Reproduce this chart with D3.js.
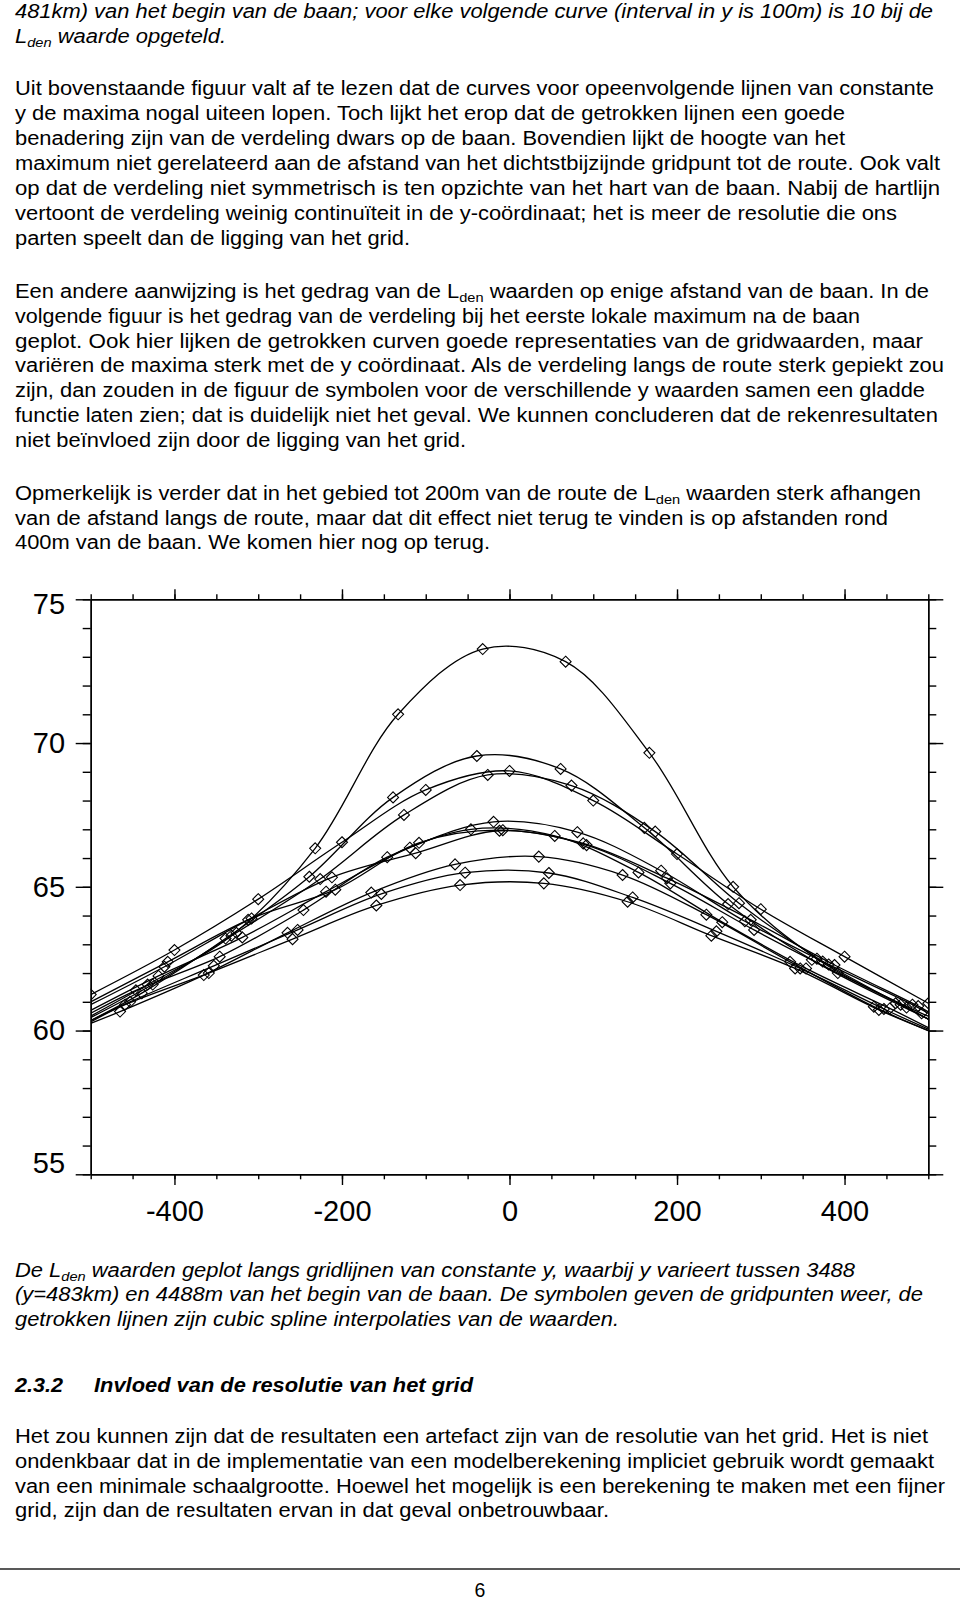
<!DOCTYPE html>
<html><head><meta charset="utf-8">
<script src="https://cdn.jsdelivr.net/npm/d3@7"></script>
<style>body{margin:0;background:#fff}svg{display:block}</style>
</head><body>
<script>
// ---------------- DATA ----------------
// x positions (m, distance across the route) of the grid points on each line of constant y
const gridX = [
  [-432,-332,-232,-133,-32,67,167,267,367,467],
  [-439,-339,-239,-139,-39,61,161,261,361,461],
  [-500,-400,-300,-200,-100,0,100,200,300,400,500],
  [-426,-326,-226,-126,-26,74,174,274,374,474],
  [-419,-319,-219,-119,-19,81,181,281,381,481],
  [-446,-346,-246,-146,-46,54,154,254,354,454],
  [-412,-312,-212,-112,-12,88,188,288,388,488],
  [-408,-308,-208,-108,-8,92,192,292,392,492],
  [-465,-365,-265,-165,-65,35,135,235,335,435],
  [-453,-353,-253,-153,-53,47,147,247,347,447],
  [-459,-359,-259,-159,-59,41,141,241,341,441]
];
// Lden values at those grid points
const ldenAtGrid = [
  [61.6,63.3,66.34,71.0,73.27,72.83,69.66,65.0,62.5,60.9],
  [61.3,63.2,65.35,68.11,69.55,69.1,67.05,64.4,62.46,60.95],
  [61.25,62.8,64.57,66.55,68.37,69.03,68.0,66.14,64.22,62.57,60.95],
  [61.6,63.4,65.27,67.5,68.89,68.52,66.92,64.43,62.4,60.8],
  [61.9,63.24,64.83,66.36,67.26,66.9,65.56,63.8,62.3,60.9],
  [61.4,62.57,64.19,66.03,67.0,66.77,65.5,63.77,62.16,60.77],
  [62.22,63.85,65.33,66.17,66.95,66.51,65.3,63.85,62.28,60.85],
  [62.39,63.9,64.9,66.53,66.97,66.45,65.12,63.5,62.0,60.6],
  [60.66,61.93,63.4,64.8,65.78,66.05,65.41,64.03,62.39,60.83],
  [61.0,62.25,63.5,64.75,65.49,65.48,64.63,63.45,62.16,60.75],
  [60.9,62.0,63.18,64.35,65.06,65.12,64.48,63.3,62.16,60.72]
];
// where each spline meets the frame (x = -500 / x = 500); null = grid point lies on the frame
const ldenAtLeftEdge  = [60.5,60.35,null,60.45,60.7,60.6,60.9,61.0,60.25,60.35,60.3];
const ldenAtRightEdge = [60.4,60.4,null,60.4,60.6,60.1,60.65,60.5,60.0,60.05,60.0];

const xDomain = [-500,500];
const yDomain = [55,75];
const xTickValues = [-400,-200,0,200,400];
const xTickLabels = ["-400","-200","0","200","400"];
const yTickValues = [55,60,65,70,75];
const yTickLabels = ["55","60","65","70","75"];

// ---------------- TEXT ----------------
const para1 = [
  "481km) van het begin van de baan; voor elke volgende curve (interval in y is 100m) is 10 bij de",
  "L{den} waarde opgeteld."
];
const para2 = [
  "Uit bovenstaande figuur valt af te lezen dat de curves voor opeenvolgende lijnen van constante",
  "y de maxima nogal uiteen lopen. Toch lijkt het erop dat de getrokken lijnen een goede",
  "benadering zijn van de verdeling dwars op de baan. Bovendien lijkt de hoogte van het",
  "maximum niet gerelateerd aan de afstand van het dichtstbijzijnde gridpunt tot de route. Ook valt",
  "op dat de verdeling niet symmetrisch is ten opzichte van het hart van de baan. Nabij de hartlijn",
  "vertoont de verdeling weinig continuïteit in de y-coördinaat; het is meer de resolutie die ons",
  "parten speelt dan de ligging van het grid."
];
const para3 = [
  "Een andere aanwijzing is het gedrag van de L{den} waarden op enige afstand van de baan. In de",
  "volgende figuur is het gedrag van de verdeling bij het eerste lokale maximum na de baan",
  "geplot. Ook hier lijken de getrokken curven goede representaties van de gridwaarden, maar",
  "variëren de maxima sterk met de y coördinaat. Als de verdeling langs de route sterk gepiekt zou",
  "zijn, dan zouden in de figuur de symbolen voor de verschillende y waarden samen een gladde",
  "functie laten zien; dat is duidelijk niet het geval. We kunnen concluderen dat de rekenresultaten",
  "niet beïnvloed zijn door de ligging van het grid."
];
const para4 = [
  "Opmerkelijk is verder dat in het gebied tot 200m van de route de L{den} waarden sterk afhangen",
  "van de afstand langs de route, maar dat dit effect niet terug te vinden is op afstanden rond",
  "400m van de baan. We komen hier nog op terug."
];
const caption = [
  "De L{den} waarden geplot langs gridlijnen van constante y, waarbij y varieert tussen 3488",
  "(y=483km) en 4488m van het begin van de baan. De symbolen geven de gridpunten weer, de",
  "getrokken lijnen zijn cubic spline interpolaties van de waarden."
];
const headingNumber = "2.3.2";
const headingTitle = "Invloed van de resolutie van het grid";
const para5 = [
  "Het zou kunnen zijn dat de resultaten een artefact zijn van de resolutie van het grid. Het is niet",
  "ondenkbaar dat in de implementatie van een modelberekening impliciet gebruik wordt gemaakt",
  "van een minimale schaalgrootte. Hoewel het mogelijk is een berekening te maken met een fijner",
  "grid, zijn dan de resultaten ervan in dat geval onbetrouwbaar."
];
const pageNumber = "6";

// ---------------- LAYOUT ----------------
const W = 960, H = 1600;
const FONT = "'Liberation Sans', Arial, Helvetica, sans-serif";
const svg = d3.select("body").append("svg").attr("width", W).attr("height", H)
  .style("font-family", FONT);
svg.append("rect").attr("width", W).attr("height", H).attr("fill", "#fff");

const TX = 15, FS = 19.5;
function addLine(str, x0, yb, x1, opts = {}) {
  const t = svg.append("text").attr("x", x0).attr("y", yb)
    .attr("font-size", FS).attr("fill", "#000")
    .attr("font-style", opts.italic ? "italic" : null)
    .attr("font-weight", opts.bold ? "bold" : null);
  const parts = str.split(/(\{den\})/);
  let afterSub = false;
  parts.forEach(p => {
    if (p === "{den}") {
      t.append("tspan").attr("font-size", 13).attr("dy", 4).text("den");
      afterSub = true;
    } else if (p) {
      const ts = t.append("tspan").text(p);
      if (afterSub) { ts.attr("dy", -4); afterSub = false; }
    }
  });
  if (x1) t.attr("textLength", x1 - x0).attr("lengthAdjust", "spacingAndGlyphs");
  return t;
}
function addPara(lines, baselines, ends, opts) {
  lines.forEach((s, i) => addLine(s, TX, baselines[i], ends[i], opts));
}
addPara(para1, [18, 43], [933, 226], {italic: true});
addPara(para2, [95,120,145,170,195,220,245], [934,845,845,940,940,897,410]);
addPara(para3, [298,323,348,372,397,422,447], [929,860,923,944,925,938,466]);
addPara(para4, [500,525,549], [921,888,490]);
addPara(caption, [1277,1301,1326], [855,923,619], {italic: true});
addLine(headingNumber, TX, 1392, 63, {italic: true, bold: true});
addLine(headingTitle, 94, 1392, 473, {italic: true, bold: true});
addPara(para5, [1443,1468,1493,1517], [928,934,945,609]);
svg.append("line").attr("x1", 0).attr("x2", W).attr("y1", 1569).attr("y2", 1569)
  .attr("stroke", "#222").attr("stroke-width", 1.3);
svg.append("text").attr("x", 480).attr("y", 1597).attr("text-anchor", "middle")
  .attr("font-size", FS).text(pageNumber);

// ---------------- CHART ----------------
const x = d3.scaleLinear().domain(xDomain).range([90.7, 928.3]);
const y = d3.scaleLinear().domain(yDomain).range([1174.3, 599.3]);
const AX = 1.4;

const chart = svg.append("g");
chart.append("clipPath").attr("id", "plotclip").append("rect")
  .attr("x", x(xDomain[0])).attr("y", y(yDomain[1]))
  .attr("width", x(xDomain[1]) - x(xDomain[0])).attr("height", y(yDomain[0]) - y(yDomain[1]));

const line = d3.line().x(d => x(d[0])).y(d => y(d[1])).curve(d3.curveCatmullRom.alpha(0.5));
const curvesG = chart.append("g").attr("clip-path", "url(#plotclip)");
gridX.forEach((xs, i) => {
  const pts = xs.map((xv, j) => [xv, ldenAtGrid[i][j]]);
  if (ldenAtLeftEdge[i] != null) pts.unshift([xDomain[0], ldenAtLeftEdge[i]]);
  if (ldenAtRightEdge[i] != null) pts.push([xDomain[1], ldenAtRightEdge[i]]);
  curvesG.append("path").datum(pts).attr("d", line)
    .attr("fill", "none").attr("stroke", "#000").attr("stroke-width", 1.3);
});
const dia = "M0,-5.5L5.5,0L0,5.5L-5.5,0Z";
gridX.forEach((xs, i) => {
  curvesG.append("g").selectAll("path").data(xs.map((xv, j) => [xv, ldenAtGrid[i][j]]))
    .join("path").attr("d", dia)
    .attr("transform", d => `translate(${x(d[0])},${y(d[1])})`)
    .attr("fill", "none").attr("stroke", "#000").attr("stroke-width", 1.1);
});

const minorY = d3.range(yDomain[0], yDomain[1] + 1, 1);
const minorX = d3.range(xDomain[0], xDomain[1] + 1, 50);
function styleAxis(g) {
  g.selectAll("path.domain").attr("stroke", "#000").attr("stroke-width", AX);
  g.selectAll(".tick line").attr("stroke", "#000").attr("stroke-width", AX);
  g.selectAll(".tick text").attr("fill", "#000").attr("font-size", 29).attr("font-family", FONT);
}
// minor ticks
chart.append("g").attr("transform", `translate(${x(xDomain[0])},0)`)
  .call(d3.axisLeft(y).tickValues(minorY).tickSize(8).tickSizeOuter(0).tickFormat("")).call(styleAxis);
chart.append("g").attr("transform", `translate(${x(xDomain[1])},0)`)
  .call(d3.axisRight(y).tickValues(minorY).tickSize(8).tickSizeOuter(0).tickFormat("")).call(styleAxis);
chart.append("g").attr("transform", `translate(0,${y(yDomain[1])})`)
  .call(d3.axisTop(x).tickValues(minorX).tickSize(5).tickSizeOuter(0).tickFormat("")).call(styleAxis);
chart.append("g").attr("transform", `translate(0,${y(yDomain[0])})`)
  .call(d3.axisBottom(x).tickValues(minorX).tickSize(5).tickSizeOuter(0).tickFormat("")).call(styleAxis);
// major ticks + labels
const leftAxis = chart.append("g").attr("transform", `translate(${x(xDomain[0])},0)`)
  .call(d3.axisLeft(y).tickValues(yTickValues).tickSize(15).tickSizeOuter(0).tickPadding(10.7)
    .tickFormat((d, i) => yTickLabels[i])).call(styleAxis);
// end labels sit inside the value range, as in the original
leftAxis.selectAll(".tick text").attr("dy", d => d === yDomain[1] ? "0.5em" : d === yDomain[0] ? "-0.05em" : "0.32em");
chart.append("g").attr("transform", `translate(${x(xDomain[1])},0)`)
  .call(d3.axisRight(y).tickValues(yTickValues).tickSize(15).tickSizeOuter(0).tickFormat("")).call(styleAxis);
chart.append("g").attr("transform", `translate(0,${y(yDomain[1])})`)
  .call(d3.axisTop(x).tickValues(xTickValues).tickSize(10).tickSizeOuter(0).tickFormat("")).call(styleAxis);
chart.append("g").attr("transform", `translate(0,${y(yDomain[0])})`)
  .call(d3.axisBottom(x).tickValues(xTickValues).tickSize(10.7).tickSizeOuter(0).tickPadding(15)
    .tickFormat((d, i) => xTickLabels[i])).call(styleAxis);
</script>
</body></html>
